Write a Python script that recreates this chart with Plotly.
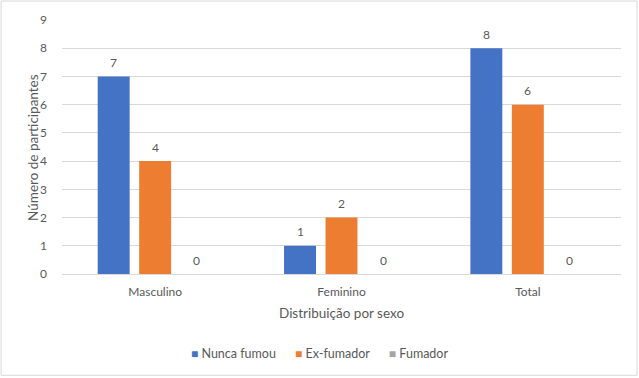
import plotly.graph_objects as go

categories = ["Masculino", "Feminino", "Total"]
nunca_fumou = [7, 1, 8]
ex_fumador = [4, 2, 6]
fumador = [0, 0, 0]
series_names = ["Nunca fumou", "Ex-fumador", "Fumador"]
colors = ["#4472C4", "#ED7D31", "#A5A5A5"]
y_ticks = list(range(0, 10))

FONT = "Lato, 'Open Sans', sans-serif"
TXT = "#595959"
SLOT_PX = 41.5  # pixel spacing between bars within a group

fig = go.Figure()
annotations = []
all_series = [nunca_fumou, ex_fumador, fumador]
for si, (name, vals, col) in enumerate(zip(series_names, all_series, colors)):
    fig.add_trace(go.Bar(
        x=categories, y=vals, name=name, marker_color=col,
        marker_line_width=0, showlegend=False,
    ))
    for cat, v in zip(categories, vals):
        annotations.append(dict(
            x=cat, y=v, xref="x", yref="y", text=str(v), showarrow=False,
            xshift=(si - 1) * SLOT_PX, yshift=14, yanchor="middle",
            font=dict(family=FONT, size=12, color=TXT),
        ))

legend_html = "&nbsp;&nbsp;&nbsp;&nbsp;&nbsp;&nbsp;".join(
    f"<span style='color:{c};font-size:12px'>■</span>&nbsp;{n}"
    for n, c in zip(series_names, colors)
)
annotations.append(dict(text=legend_html, xref="paper", yref="paper", x=0.4615, y=-0.312,
                        xanchor="center", yanchor="middle", showarrow=False,
                        font=dict(family=FONT, size=12.5, color=TXT)))
annotations.append(dict(text="Distribuição por sexo", xref="paper", yref="paper", x=0.5, y=-0.152,
                        yanchor="middle", showarrow=False, font=dict(family=FONT, size=13.5, color=TXT)))
annotations.append(dict(text="Número de participantes", xref="paper", yref="paper", x=-0.052, y=0.5,
                        textangle=-90, xanchor="center", yanchor="middle", showarrow=False,
                        font=dict(family=FONT, size=13.5, color=TXT)))

fig.update_layout(
    width=639, height=378,
    margin=dict(l=62, r=18, t=20, b=103.5),
    paper_bgcolor="white", plot_bgcolor="white",
    barmode="group", bargap=0.332, bargroupgap=0.23,
    font=dict(family=FONT, size=12, color=TXT),
    showlegend=False,
    xaxis=dict(showgrid=False, showline=True, linecolor="#D9D9D9", ticks="",
               ticklabelstandoff=7,
               tickfont=dict(family=FONT, size=12, color=TXT)),
    yaxis=dict(range=[0, 9], tickvals=y_ticks, showgrid=True, gridcolor="#D9D9D9",
               zeroline=False, showline=False, ticks="", ticklabelstandoff=14,
               tickfont=dict(family=FONT, size=12, color=TXT)),
    annotations=annotations,
    shapes=[dict(type="rect", xref="paper", yref="paper", x0=-0.109, x1=1.0286,
                 y0=-0.3988, y1=1.0747, line=dict(color="#D9D9D9", width=1))],
)

fig.write_html("out.html")
